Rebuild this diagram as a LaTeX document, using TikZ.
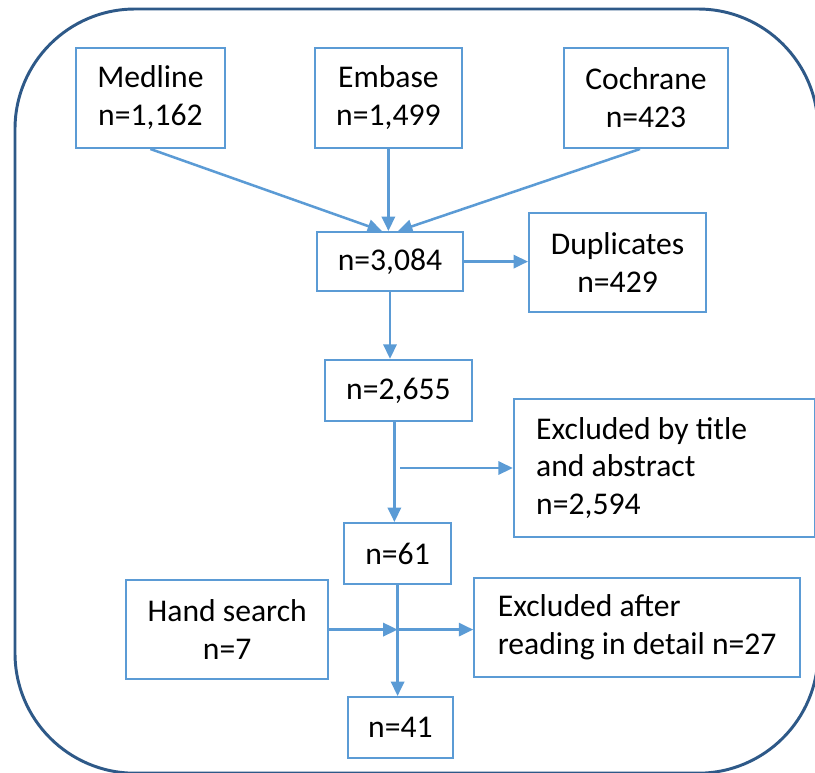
\documentclass[tikz,border=0pt]{standalone}
\usepackage{fontspec}
\setmainfont{Carlito}
\usetikzlibrary{arrows.meta,positioning,calc}
\definecolor{boxblue}{RGB}{91,155,213}
\definecolor{frameblue}{RGB}{46,89,136}

\begin{document}
\begin{tikzpicture}[
  font=\fontsize{22.5}{27}\selectfont,
  box/.style={draw=boxblue, line width=1.4pt, align=center, inner sep=2pt},
  wbox/.style={box, align=flush left, anchor=center},
  arr/.style={-{Triangle[length=0.36cm, width=0.33cm]}, draw=boxblue, line width=1.8pt},
  frame/.style={draw=frameblue, line width=2.1pt, rounded corners=3cm}
]
\useasboundingbox (0,0) rectangle (20.375,-19.3);
\draw[frame] (0.375,-0.225) rectangle (20.45,-19.33);
% databases
\node[box, minimum width=3.72cm, minimum height=2.5cm] (med) at (3.76,-2.45) {Medline\\n=1,162};
\node[box, minimum width=3.67cm, minimum height=2.5cm] (emb) at (9.71,-2.45) {Embase\\n=1,499};
\node[box, minimum width=4.1cm, minimum height=2.5cm] (coch) at (16.15,-2.45) {Cochrane\\n=423};
% screening
\node[box, minimum width=3.65cm, minimum height=1.48cm] (all) at (9.75,-6.54) {n=3,084};
\node[box, minimum width=4.43cm, minimum height=2.48cm] (dup) at (15.44,-6.56) {Duplicates\\n=429};
\node[box, minimum width=3.68cm, minimum height=1.53cm] (uniq) at (9.96,-9.76) {n=2,655};
\node[wbox, inner xsep=0.56cm, text width=6.41cm, minimum height=3.45cm] (exta) at (16.61,-11.7) {Excluded by title\\and abstract\\n=2,594};
\node[box, minimum width=2.68cm, minimum height=1.53cm] (full) at (9.94,-13.84) {n=61};
\node[box, minimum width=5.05cm, minimum height=2.48cm] (hand) at (5.68,-15.74) {Hand search\\n=7};
\node[wbox, minimum width=8.15cm, minimum height=2.48cm] (extb) at (15.93,-15.69) {Excluded after\\reading in detail n=27};
\node[box, minimum width=2.63cm, minimum height=1.53cm] (incl) at (10.01,-18.19) {n=41};
\coordinate (br) at (10.0,-11.7);
\coordinate (jn) at (full.south |- hand.east);
\draw[arr] (med.south) -- ([xshift=-0.2cm]all.north);
\draw[arr] (emb.south) -- (emb.south |- all.north);
\draw[arr] ([xshift=-0.15cm]coch.south) -- ([xshift=0.2cm]all.north);
\draw[arr] (all.east) -- (all.east -| dup.west);
\draw[arr] (all.south) -- (all.south |- uniq.north);
\draw[arr] ([xshift=-0.1cm]uniq.south) -- ([xshift=-0.1cm]uniq.south |- full.north);
\draw[arr] (br) -- (br -| exta.west);
\draw[arr] (full.south) -- (full.south |- incl.north);
\draw[arr] (hand.east) -- (jn);
\draw[arr] (jn) -- (jn -| extb.west);
\end{tikzpicture}
\end{document}
